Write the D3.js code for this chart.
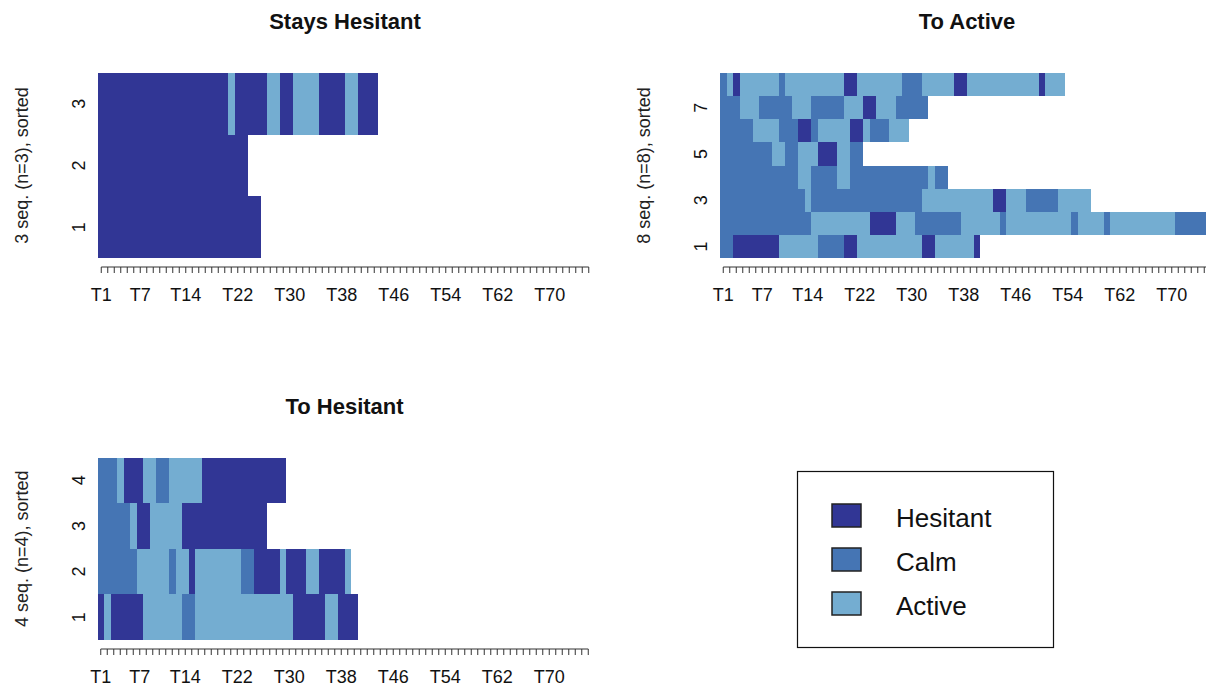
<!DOCTYPE html>
<html>
<head>
<meta charset="utf-8">
<script src="https://cdn.jsdelivr.net/npm/d3@7"></script>
<style>
  body { margin: 0; background: #fff; }
  svg text { font-family: "Liberation Sans", Arial, sans-serif; }
</style>
</head>
<body>
<div id="chart"></div>
<script>
// States and their colours (RdYlBu blues, as in the TraMineR plot)
const states = ["Hesitant", "Calm", "Active"];
const stateColors = { Hesitant: "#313695", Calm: "#4575B4", Active: "#74ADD1" };

// Number of positions (T1 ... T76) and the labels R kept on the axis
const seqLength = 76;
const tickLabels = ["T1", "T7", "T14", "T22", "T30", "T38", "T46", "T54", "T62", "T70"];

// Sequences as spells [state, duration], row 1 is the bottom row
const staysHesitant = [
  [["Hesitant", 25]],
  [["Hesitant", 23]],
  [["Hesitant", 20], ["Active", 1], ["Hesitant", 5], ["Active", 2], ["Hesitant", 2],
   ["Active", 4], ["Hesitant", 4], ["Active", 2], ["Hesitant", 3]]
];

const toActive = [
  [["Calm", 2], ["Hesitant", 7], ["Active", 6], ["Calm", 4], ["Hesitant", 2], ["Active", 10],
   ["Hesitant", 2], ["Active", 6], ["Hesitant", 1]],
  [["Calm", 14], ["Active", 9], ["Hesitant", 4], ["Active", 3], ["Calm", 7], ["Active", 6],
   ["Calm", 1], ["Active", 10], ["Calm", 1], ["Active", 4], ["Calm", 1], ["Active", 10], ["Calm", 6]],
  [["Calm", 13], ["Active", 1], ["Calm", 17], ["Active", 11], ["Hesitant", 2], ["Active", 3],
   ["Calm", 5], ["Active", 5]],
  [["Calm", 12], ["Active", 2], ["Calm", 4], ["Active", 2], ["Calm", 12], ["Active", 1], ["Calm", 2]],
  [["Calm", 8], ["Active", 2], ["Calm", 2], ["Active", 3], ["Hesitant", 3], ["Active", 2], ["Calm", 2]],
  [["Calm", 5], ["Active", 4], ["Calm", 3], ["Hesitant", 2], ["Calm", 1], ["Active", 5],
   ["Hesitant", 2], ["Active", 1], ["Calm", 3], ["Active", 3]],
  [["Calm", 3], ["Active", 3], ["Calm", 5], ["Active", 3], ["Calm", 5], ["Active", 3],
   ["Hesitant", 2], ["Active", 3], ["Calm", 5]],
  [["Calm", 1], ["Active", 1], ["Hesitant", 1], ["Active", 6], ["Calm", 1], ["Active", 9],
   ["Hesitant", 2], ["Active", 7], ["Calm", 3], ["Active", 5], ["Hesitant", 2], ["Active", 11],
   ["Hesitant", 1], ["Active", 3]]
];

const toHesitant = [
  [["Hesitant", 1], ["Active", 1], ["Hesitant", 5], ["Active", 6], ["Calm", 2], ["Active", 15],
   ["Hesitant", 5], ["Active", 2], ["Hesitant", 3]],
  [["Calm", 6], ["Active", 5], ["Calm", 1], ["Active", 2], ["Hesitant", 1], ["Active", 7],
   ["Calm", 2], ["Hesitant", 4], ["Active", 1], ["Hesitant", 3], ["Active", 2], ["Hesitant", 4], ["Active", 1]],
  [["Calm", 5], ["Active", 1], ["Hesitant", 2], ["Active", 5], ["Hesitant", 13]],
  [["Calm", 3], ["Active", 1], ["Hesitant", 3], ["Active", 2], ["Calm", 2], ["Active", 5], ["Hesitant", 13]]
];

const width = 1206, height = 694;
const svg = d3.select("#chart").append("svg")
  .attr("width", width)
  .attr("height", height);

// Panel frames: left/right of the bar area and its top/bottom
const panels = [
  { title: "Stays Hesitant", seqs: staysHesitant, left: 98, top: 73, bottom: 258 },
  { title: "To Active", seqs: toActive, left: 720, top: 73, bottom: 258 },
  { title: "To Hesitant", seqs: toHesitant, left: 97.5, top: 457.5, bottom: 640 }
];
const cellWidth = 6.5;

const positions = d3.range(1, seqLength + 1).map(i => "T" + i);

panels.forEach(p => {
  const right = p.left + seqLength * cellWidth;
  const g = svg.append("g");

  // x scales: linear for spells, band for the position ticks
  const x = d3.scaleLinear().domain([0, seqLength]).range([p.left, right]);
  const xBand = d3.scaleBand().domain(positions).range([p.left, right]).padding(0);

  // y scale: one band per sequence, first sequence at the bottom
  const rows = d3.range(1, p.seqs.length + 1);
  const y = d3.scaleBand().domain(rows.slice().reverse()).range([p.top, p.bottom]).padding(0);

  // Flatten spells into rects
  const spells = [];
  p.seqs.forEach((seq, i) => {
    let start = 0;
    seq.forEach(([state, dur]) => {
      spells.push({ row: i + 1, state, start, dur });
      start += dur;
    });
  });

  g.selectAll("rect.spell")
    .data(spells)
    .enter()
    .append("rect")
    .attr("class", "spell")
    .attr("x", d => x(d.start))
    .attr("width", d => x(d.start + d.dur) - x(d.start))
    .attr("y", d => y(d.row))
    .attr("height", y.bandwidth())
    .attr("fill", d => stateColors[d.state])
    .attr("shape-rendering", "crispEdges");

  // x axis: a tick at every position, only some labels
  const axisY = p.bottom + 9;
  const xAxis = g.append("g")
    .attr("transform", `translate(0, ${axisY})`)
    .call(d3.axisBottom(xBand)
      .tickSize(6)
      .tickSizeOuter(0)
      .tickFormat(d => tickLabels.includes(d) ? d : ""));
  xAxis.select(".domain").remove();
  xAxis.selectAll(".tick line").attr("stroke", "#333");
  xAxis.selectAll(".tick text")
    .attr("y", 34)
    .attr("dy", 0)
    .attr("fill", "#111")
    .style("font-size", "18px");
  xAxis.append("line")
    .attr("x1", xBand(positions[0]) + xBand.bandwidth() / 2)
    .attr("x2", xBand(positions[seqLength - 1]) + xBand.bandwidth() / 2)
    .attr("stroke", "#333");

  // y labels (rotated, no ticks); R drops overlapping ones
  const step = p.seqs.length > 4 ? 2 : 1;
  g.selectAll("text.ylab")
    .data(rows.filter(r => (r - 1) % step === 0))
    .enter()
    .append("text")
    .attr("class", "ylab")
    .attr("transform", d => `translate(${p.left - 13}, ${y(d) + y.bandwidth() / 2}) rotate(-90)`)
    .attr("text-anchor", "middle")
    .attr("fill", "#111")
    .style("font-size", "18px")
    .text(d => d);

  // y title
  g.append("text")
    .attr("transform", `translate(${p.left - 70}, ${(p.top + p.bottom) / 2}) rotate(-90)`)
    .attr("text-anchor", "middle")
    .attr("fill", "#222")
    .style("font-size", "18px")
    .text(`${p.seqs.length} seq. (n=${p.seqs.length}), sorted`);

  // panel title
  g.append("text")
    .attr("x", (p.left + right) / 2)
    .attr("y", p.top - 44)
    .attr("text-anchor", "middle")
    .style("font-size", "22px")
    .style("font-weight", "bold")
    .attr("fill", "#111")
    .text(p.title);
});

// Legend in the empty fourth panel
const legend = svg.append("g");
legend.append("rect")
  .attr("x", 797.5)
  .attr("y", 471.5)
  .attr("width", 256)
  .attr("height", 176)
  .attr("fill", "none")
  .attr("stroke", "#111")
  .attr("stroke-width", 1.2);

const legendItem = legend.selectAll(".legend")
  .data(states)
  .enter()
  .append("g")
  .attr("class", "legend")
  .attr("transform", (d, i) => `translate(832, ${504 + i * 44})`);

legendItem.append("rect")
  .attr("width", 29)
  .attr("height", 23)
  .attr("fill", d => stateColors[d])
  .attr("stroke", "#222")
  .attr("stroke-width", 1.5);

legendItem.append("text")
  .attr("x", 64)
  .attr("y", 23)
  .attr("fill", "#111")
  .style("font-size", "26px")
  .text(d => d);
</script>
</body>
</html>
